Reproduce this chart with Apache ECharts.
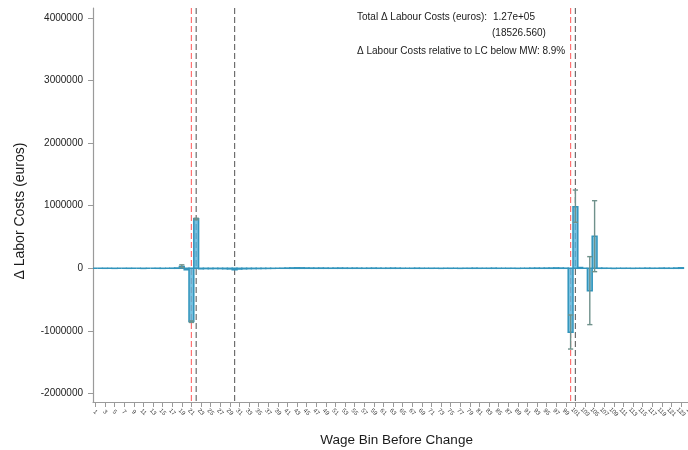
<!DOCTYPE html>
<html>
<head>
<meta charset="utf-8">
<script src="https://cdn.jsdelivr.net/npm/echarts@6/dist/echarts.min.js"></script>
<style>
  html, body { margin: 0; padding: 0; background: #ffffff; }
  #chart { width: 688px; height: 450px; }
</style>
</head>
<body>
<div id="chart"></div>
<script>
// Wage bins before the minimum-wage change
const bins = [
  1, 2, 3, 4, 5, 6, 7, 8, 9, 10, 11, 12, 13, 14, 15, 16, 17, 18, 19, 20,
  21, 22, 23, 24, 25, 26, 27, 28, 29, 30, 31, 32, 33, 34, 35, 36, 37, 38, 39, 40,
  41, 42, 43, 44, 45, 46, 47, 48, 49, 50, 51, 52, 53, 54, 55, 56, 57, 58, 59, 60,
  61, 62, 63, 64, 65, 66, 67, 68, 69, 70, 71, 72, 73, 74, 75, 76, 77, 78, 79, 80,
  81, 82, 83, 84, 85, 86, 87, 88, 89, 90, 91, 92, 93, 94, 95, 96, 97, 98, 99, 100,
  101, 102, 103, 104, 105, 106, 107, 108, 109, 110, 111, 112, 113, 114, 115, 116, 117, 118, 119, 120,
  121, 122, 123
];

// Change in labour costs per bin (euros)
const laborCostChange = [
  0, 0, 1000, 0, -1000, 0, 0, 1000, 0, 0, -2000, 0, 0, 1000, -1000, 0, 2000, 5000, 30000, -25000,
  -850000, 790000, -8000, -5000, -6000, -4000, -5000, -7000, -10000, -25000, -12000, -8000, -6000, -5000, -4000, -3000, -2000, -1000, 0, 2000,
  4000, 6000, 8000, 7000, 5000, 4000, 3000, 4000, 3000, 2000, 3000, 4000, 3000, 2000, 3000, 2000, 1000, 2000, 3000, 2000,
  1000, 2000, 3000, 2000, 1000, 0, 1000, 2000, 1000, 0, 1000, 0, -1000, 0, 1000, 0, -1000, 0, 1000, 2000,
  1000, 0, 1000, 2000, 1000, 0, 1000, 0, -1000, 0, 1000, 2000, 3000, 2000, 3000, 4000, 6000, 4000, 2000, -1020000,
  985000, 12000, 0, -357000, 510000, 3000, 2000, 0, -2000, 0, 1000, 0, -1000, 0, 1000, 2000, 1000, 0, 3000, 2000,
  1000, 4000, 8000
];

// Confidence intervals for the bins where they are visible
const ciBins = [19, 21, 22, 100, 101, 104, 105];
const ciLow  = [10000, -865000, 775000, -1290000, 735000, -900000, -54000];
const ciHigh = [55000, -840000, 800000, -746000, 1250000, 186000, 1080000];

// Reference lines: minimum wage bins (red) and other markers (grey)
const mwLines = [21, 100];
const refLines = [22, 30, 101];

// Axis tick labels
const xTicks = [
  1, 3, 5, 7, 9, 11, 13, 15, 17, 19, 21, 23, 25, 27, 29, 31, 33, 35, 37, 39,
  41, 43, 45, 47, 49, 51, 53, 55, 57, 59, 61, 63, 65, 67, 69, 71, 73, 75, 77, 79,
  81, 83, 85, 87, 89, 91, 93, 95, 97, 99, 101, 103, 105, 107, 109, 111, 113, 115, 117, 119,
  121, 123, 125
];
const yTicks = [-2000000, -1000000, 0, 1000000, 2000000, 3000000, 4000000];

const FONT = '"Liberation Sans", Arial, Helvetica, sans-serif';

const barData = bins.map((b, i) => [b, laborCostChange[i]]);
const ciData = ciBins.map((b, i) => [b, ciLow[i], ciHigh[i]]);
const vlineData = mwLines.map(v => [v, 0]).concat(refLines.map(v => [v, 1]));

const chart = echarts.init(document.getElementById('chart'), null, { renderer: 'canvas' });

const option = {
  animation: false,
  backgroundColor: '#ffffff',
  grid: { left: 93, top: 8, width: 607.2, height: 394, outerBoundsMode: 'none', containLabel: false },
  xAxis: {
    type: 'value',
    min: 0.5,
    max: 127,
    name: 'Wage Bin Before Change',
    nameLocation: 'middle',
    nameGap: 31,
    nameTextStyle: { fontFamily: FONT, fontSize: 13.5, color: '#1a1a1a' },
    axisLine: { show: true, onZero: false, lineStyle: { color: '#9a9a9a', width: 1.2 } },
    axisTick: { show: true, length: 5, customValues: xTicks, lineStyle: { color: '#9a9a9a', width: 1 } },
    axisLabel: {
      customValues: xTicks,
      rotate: -45,
      fontSize: 6,
      fontFamily: FONT,
      color: '#333333',
      margin: 10,
      align: 'center',
      verticalAlign: 'middle'
    },
    splitLine: { show: false }
  },
  yAxis: {
    type: 'value',
    min: -2136000,
    max: 4158000,
    axisLine: { show: true, onZero: false, lineStyle: { color: '#9a9a9a', width: 1.2 } },
    axisTick: { show: true, length: 5, customValues: yTicks, lineStyle: { color: '#9a9a9a', width: 1 } },
    axisLabel: {
      customValues: yTicks,
      formatter: v => String(v),
      fontSize: 10,
      fontFamily: FONT,
      color: '#222222',
      margin: 10
    },
    splitLine: { show: false }
  },
  series: [
    {
      // dashed vertical reference lines spanning the plot height
      type: 'custom',
      data: vlineData,
      encode: { x: 0 },
      z: 2,
      silent: true,
      renderItem: function (params, api) {
        const x = api.value(0);
        const kind = api.value(1);
        const px = api.coord([x, 0])[0];
        const cs = params.coordSys;
        return {
          type: 'line',
          shape: { x1: px, y1: cs.y, x2: px, y2: cs.y + cs.height },
          style: {
            stroke: kind === 0 ? '#ff7272' : '#6e6e6e',
            lineWidth: 1.2,
            lineDash: [6, 3]
          }
        };
      }
    },
    {
      // one bar per wage bin, from zero to the change in labour costs
      type: 'custom',
      data: barData,
      encode: { x: 0, y: 1 },
      z: 3,
      renderItem: function (params, api) {
        const x = api.value(0);
        const v = api.value(1);
        const p0 = api.coord([x - 0.5, 0]);
        const p1 = api.coord([x + 0.5, v]);
        return {
          type: 'rect',
          shape: {
            x: p0[0],
            y: Math.min(p0[1], p1[1]),
            width: p1[0] - p0[0],
            height: Math.abs(p1[1] - p0[1])
          },
          style: {
            fill: 'rgba(86,178,216,0.8)',
            stroke: '#3194bc',
            lineWidth: 1.5
          }
        };
      }
    },
    {
      // capped confidence intervals
      type: 'custom',
      data: ciData,
      encode: { x: 0, y: [1, 2] },
      z: 4,
      renderItem: function (params, api) {
        const x = api.value(0);
        const lo = api.coord([x, api.value(1)]);
        const hi = api.coord([x, api.value(2)]);
        const half = 2.6;
        const style = { stroke: '#6f918b', lineWidth: 1.4 };
        return {
          type: 'group',
          children: [
            { type: 'line', shape: { x1: lo[0], y1: lo[1], x2: hi[0], y2: hi[1] }, style: style },
            { type: 'line', shape: { x1: lo[0] - half, y1: lo[1], x2: lo[0] + half, y2: lo[1] }, style: style },
            { type: 'line', shape: { x1: hi[0] - half, y1: hi[1], x2: hi[0] + half, y2: hi[1] }, style: style }
          ]
        };
      }
    }
  ],
  graphic: [
    {
      type: 'text',
      x: 20,
      y: 211,
      rotation: Math.PI / 2,
      style: {
        text: 'Δ Labor Costs (euros)',
        font: '14px ' + FONT,
        fill: '#1a1a1a',
        textAlign: 'center',
        textVerticalAlign: 'middle'
      }
    },
    {
      type: 'text',
      x: 357,
      y: 17,
      style: { text: 'Total Δ Labour Costs (euros):', font: '10px ' + FONT, fill: '#1a1a1a', textVerticalAlign: 'middle' }
    },
    {
      type: 'text',
      x: 493,
      y: 17,
      style: { text: '1.27e+05', font: '10px ' + FONT, fill: '#1a1a1a', textVerticalAlign: 'middle' }
    },
    {
      type: 'text',
      x: 492,
      y: 33,
      style: { text: '(18526.560)', font: '10px ' + FONT, fill: '#1a1a1a', textVerticalAlign: 'middle' }
    },
    {
      type: 'text',
      x: 357,
      y: 51,
      style: { text: 'Δ Labour Costs relative to LC below MW: 8.9%', font: '10px ' + FONT, fill: '#1a1a1a', textVerticalAlign: 'middle' }
    }
  ]
};

chart.setOption(option);
</script>
</body>
</html>
